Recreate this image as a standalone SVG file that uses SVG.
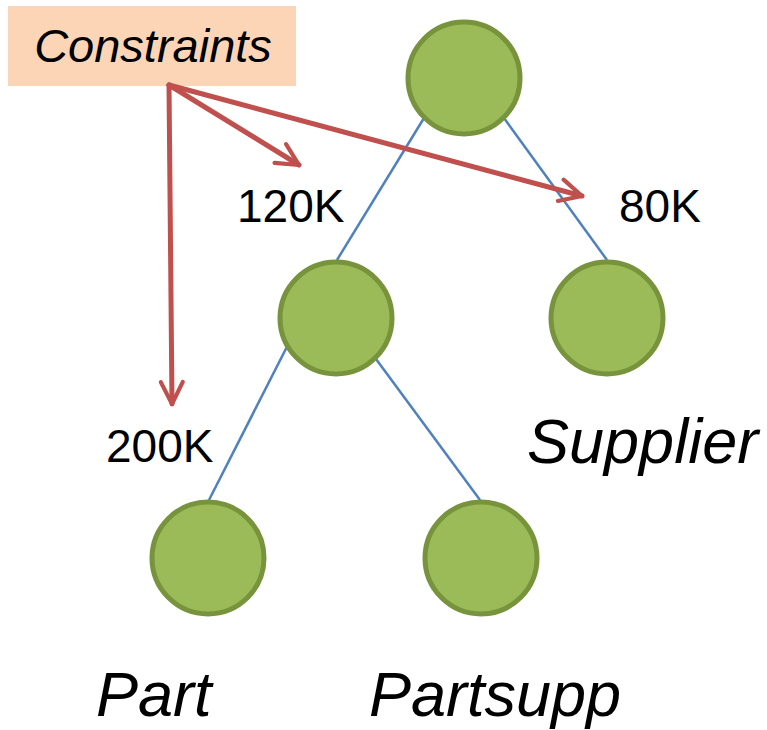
<svg xmlns="http://www.w3.org/2000/svg" width="767" height="730" viewBox="0 0 767 730">
  <defs>
    <style>
      .node { fill: #9bbb59; stroke: #77933c; stroke-width: 5; }
      .edge { stroke: #4f81bd; stroke-width: 2.5; fill: none; }
      .arrow { stroke: #c0504d; stroke-width: 5; fill: none; stroke-linecap: round; }
      .num { font-family: "Liberation Sans", Arial, sans-serif; font-size: 46px; fill: #000; }
      .label { font-family: "Liberation Sans", Arial, sans-serif; font-size: 63px; font-style: italic; fill: #000; }
    </style>
    <marker id="head" viewBox="0 0 10 10" refX="9" refY="5" markerWidth="5.5" markerHeight="5.5" markerUnits="strokeWidth" orient="auto">
      <path d="M1,1 L9,5 L1,9" fill="none" stroke="#c0504d" stroke-width="1.5" stroke-linecap="round" stroke-linejoin="round"/>
    </marker>
  </defs>

  <!-- tree edges -->
  <g id="edges">
    <line class="edge" x1="424" y1="118" x2="337" y2="260"/>
    <line class="edge" x1="504" y1="118" x2="607" y2="260"/>
    <line class="edge" x1="296" y1="329" x2="209" y2="500"/>
    <line class="edge" x1="376" y1="359" x2="480" y2="500"/>
  </g>

  <!-- join tree nodes -->
  <g id="root"><circle class="node" cx="464" cy="78" r="56"/></g>
  <g id="join"><circle class="node" cx="336" cy="318" r="56"/></g>
  <g id="supplier">
    <circle class="node" cx="607" cy="318" r="56"/>
    <text class="label" x="527" y="463" font-size="64">Supplier</text>
  </g>
  <g id="part">
    <circle class="node" cx="208" cy="558" r="56"/>
    <text class="label" x="96" y="716">Part</text>
  </g>
  <g id="partsupp">
    <circle class="node" cx="481" cy="558" r="56"/>
    <text class="label" x="369" y="716" font-size="64">Partsupp</text>
  </g>

  <!-- cardinality labels -->
  <g id="card-120k"><text class="num" x="237" y="222">120K</text></g>
  <g id="card-80k"><text class="num" x="619" y="222">80K</text></g>
  <g id="card-200k"><text class="num" x="106" y="462">200K</text></g>

  <!-- constraints box -->
  <g id="constraints">
    <rect x="8" y="6" width="288" height="80" fill="#fbd5b5"/>
    <text x="153" y="62" text-anchor="middle" font-family="'Liberation Sans', Arial, sans-serif" font-size="47" font-style="italic" fill="#000">Constraints</text>
  </g>

  <!-- constraint arrows -->
  <g id="arrows">
    <line class="arrow" x1="169" y1="85" x2="172" y2="404" marker-end="url(#head)"/>
    <line class="arrow" x1="169" y1="85" x2="299" y2="165" marker-end="url(#head)"/>
    <line class="arrow" x1="169" y1="85" x2="582" y2="196" marker-end="url(#head)"/>
  </g>
</svg>
